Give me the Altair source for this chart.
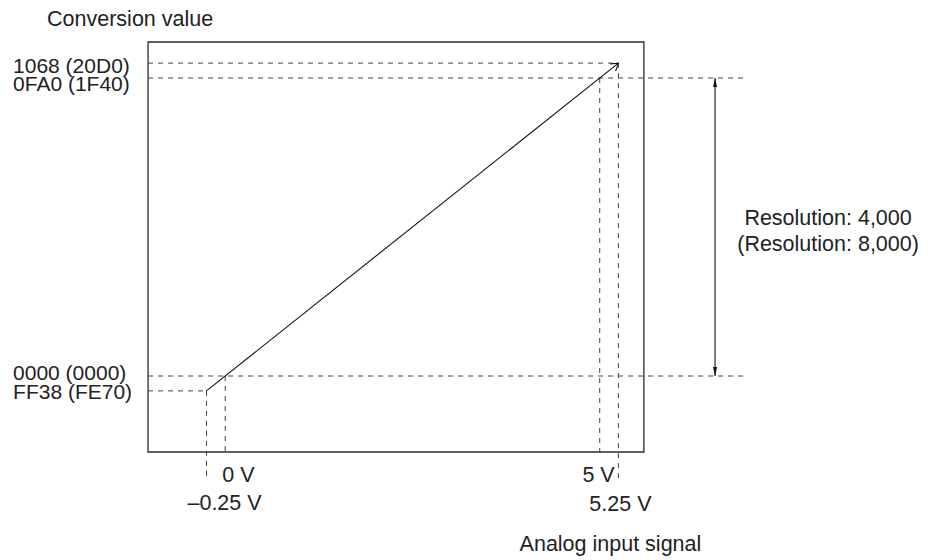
import math
import altair as alt
import pandas as pd

# ---------------- data ----------------
# main characteristic: input voltage (V) -> conversion value (decimal)
line_volts = [-0.25, 5.25]
line_values = [-200, 4200]          # FF38 ... 1068 (hex)

# outer frame of the graph (data units)
frame_x = [-1.03, 5.59]
frame_y = [-1020, 4483]

# dashed guide segments (x, y) -> (x2, y2)
guide_x = [-1.03, -1.03, -1.03, -1.03, -0.25, 0.0, 5.0, 5.25]
guide_y = [4200, 4000, 0, -200, -200, 0, 4000, 4200]
guide_x2 = [5.25, 6.97, 6.97, -0.25, -0.25, 0.0, 5.0, 5.25]
guide_y2 = [4200, 4000, 0, -200, -1396, -1020, -1020, -1423]

# resolution double arrow
res_x = 6.54
res_span = [0, 4000]

# texts
y_label_text = ["1068 (20D0)", "0FA0 (1F40)", "0000 (0000)", "FF38 (FE70)"]
y_label_vals = [4200, 4000, 0, -200]
x_label_text = ["0 V", "\u20130.25 V", "5 V", "5.25 V"]
x_label_vals = [0.0, -0.25, 5.0, 5.25]
title_y = "Conversion value"
title_x = "Analog input signal"
res_text = ["Resolution: 4,000", "(Resolution: 8,000)"]

# ---------------- layout ----------------
W, H = 915, 552
X_DOMAIN = [-2.9, -2.9 + W / 74.9]
Y_TOP = 4939.6
Y_DOMAIN = [Y_TOP - H / 0.0745, Y_TOP]

xs = alt.Scale(domain=X_DOMAIN, nice=False, zero=False)
ys = alt.Scale(domain=Y_DOMAIN, nice=False, zero=False)

FONT = "Liberation Sans"
FS = 21.5
FS_Y = 21
TXT = "#222222"


def X(field="x"):
    return alt.X(f"{field}:Q", scale=xs, axis=None)


def Y(field="y"):
    return alt.Y(f"{field}:Q", scale=ys, axis=None)


layers = []

# frame
frame_df = pd.DataFrame({"x": [frame_x[0]], "x2": [frame_x[1]], "y": [frame_y[0]], "y2": [frame_y[1]]})
layers.append(
    alt.Chart(frame_df).mark_rect(filled=False, stroke="#2a2a2a", strokeWidth=1.3).encode(
        x=X(), x2="x2:Q", y=Y(), y2="y2:Q"
    )
)

# dashed guides
guide_df = pd.DataFrame({"x": guide_x, "y": guide_y, "x2": guide_x2, "y2": guide_y2})
layers.append(
    alt.Chart(guide_df).mark_rule(color="#444444", strokeWidth=1, strokeDash=[5, 5]).encode(
        x=X(), y=Y(), x2="x2:Q", y2="y2:Q"
    )
)

# characteristic line
line_df = pd.DataFrame({"x": line_volts, "y": line_values})
layers.append(
    alt.Chart(line_df).mark_line(color="#111111", strokeWidth=1.1).encode(x=X(), y=Y())
)

# open arrow head at the top end of the line
px_x = W / (X_DOMAIN[1] - X_DOMAIN[0])
px_y = H / (Y_DOMAIN[1] - Y_DOMAIN[0])
ang = math.degrees(math.atan2((line_volts[1] - line_volts[0]) * px_x,
                              (line_values[1] - line_values[0]) * px_y))
head_df = pd.DataFrame({"x": [line_volts[1]], "y": [line_values[1]]})
layers.append(
    alt.Chart(head_df).mark_point(
        shape="M-0.9,1.44L0,0L0.9,1.44", size=100, filled=False, stroke="#111111",
        strokeWidth=1.1, opacity=1, angle=ang
    ).encode(x=X(), y=Y())
)

# resolution double arrow
res_df = pd.DataFrame({"x": [res_x], "y": [res_span[0]], "y2": [res_span[1]]})
layers.append(
    alt.Chart(res_df).mark_rule(color="#111111", strokeWidth=1.1).encode(x=X(), y=Y(), y2="y2:Q")
)
up_df = pd.DataFrame({"x": [res_x], "y": [res_span[1]]})
dn_df = pd.DataFrame({"x": [res_x], "y": [res_span[0]]})
layers.append(
    alt.Chart(up_df).mark_point(shape="M0,0L0.4,1.8L-0.4,1.8Z", size=100, filled=True,
                                color="#111111", opacity=1).encode(x=X(), y=Y())
)
layers.append(
    alt.Chart(dn_df).mark_point(shape="M0,0L0.4,-1.8L-0.4,-1.8Z", size=100, filled=True,
                                color="#111111", opacity=1).encode(x=X(), y=Y())
)

# text annotations: (text, x anchor, y anchor, align, dx, dy, font size)
labels = []
y_dy = [4, 7, -2, 2]
for t, v, d in zip(y_label_text, y_label_vals, y_dy):
    labels.append((t, frame_x[0], v, "left", -135, d, FS_Y))
x_spec = [("left", -3, 24), ("left", -19, 52), ("right", 15, 24), ("center", 2, 53)]
for t, v, (al, dx, dy) in zip(x_label_text, x_label_vals, x_spec):
    labels.append((t, v, frame_y[0], al, dx, dy, FS))
labels.append((title_y, frame_x[0], frame_y[1], "left", -101, -22, FS))
labels.append((title_x, 5.25, frame_y[0], "center", -8, 93, FS))
labels.append((res_text[0], res_x, 2000, "center", 113, -8, FS))
labels.append((res_text[1], res_x, 2000, "center", 113, 18, FS))

for t, x, y, al, dx, dy, fs in labels:
    df = pd.DataFrame({"x": [x], "y": [y], "t": [t]})
    layers.append(
        alt.Chart(df).mark_text(font=FONT, fontSize=fs, color=TXT, align=al,
                                baseline="middle", dx=dx, dy=dy).encode(
            x=X(), y=Y(), text="t:N"
        )
    )

chart = (
    alt.layer(*layers)
    .properties(width=W, height=H, padding=0, autosize=alt.AutoSizeParams(type="none"))
    .configure_view(strokeWidth=0)
)

chart.save("out.html", embed_options={"renderer": "svg", "actions": False})
